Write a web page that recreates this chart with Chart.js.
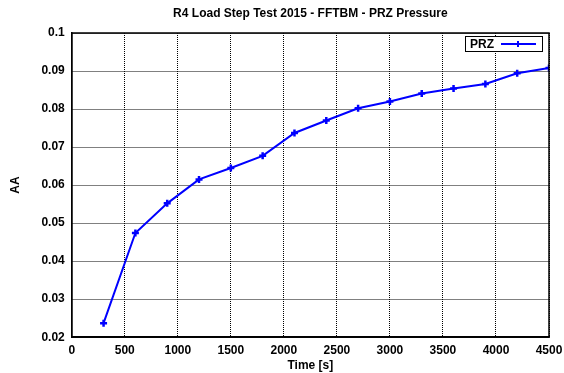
<!DOCTYPE html>
<html>
<head>
<meta charset="utf-8">
<script src="https://cdn.jsdelivr.net/npm/chart.js@4/dist/chart.umd.min.js"></script>
<style>
  html, body { margin: 0; padding: 0; background: #fff; }
  #wrap { width: 564px; height: 373px; }
</style>
</head>
<body>
<div id="wrap"><canvas id="chart"></canvas></div>
<script>
// Datos
const tiempos = [300, 600, 900, 1200, 1500, 1800, 2100, 2400, 2700, 3000, 3300, 3600, 3900, 4200, 4500];
const przValores = [0.0237, 0.0474, 0.0552, 0.0615, 0.0645, 0.0677, 0.0737, 0.0770, 0.0802, 0.0820, 0.0841, 0.0854, 0.0866, 0.0894, 0.0908];
const serieNombre = 'PRZ';
const tituloTexto = 'R4 Load Step Test 2015 - FFTBM - PRZ Pressure';

const fuente = 'Liberation Sans, Arial, sans-serif';
const azul = '#0000ff';

// Título centrado sobre el área de trazado (no sobre todo el lienzo)
const tituloArea = {
    id: 'tituloArea',
    afterDraw(chart) {
        const ctx = chart.ctx;
        const a = chart.chartArea;
        ctx.save();
        ctx.fillStyle = '#000';
        ctx.font = 'bold 12px ' + fuente;
        ctx.textAlign = 'center';
        ctx.textBaseline = 'middle';
        ctx.fillText(tituloTexto, (a.left + a.right) / 2, 14);
        ctx.restore();
    }
};

// Leyenda dentro del área del gráfico, con recuadro
const leyendaCaja = {
    id: 'leyendaCaja',
    afterDraw(chart) {
        const ctx = chart.ctx;
        const area = chart.chartArea;
        const w = 77, h = 15;
        const x = Math.round(area.right - 84), y = Math.round(area.top + 3);
        const cy = y + h / 2 + 0.5;
        ctx.save();
        ctx.fillStyle = '#fff';
        ctx.fillRect(x, y, w, h);
        ctx.strokeStyle = '#000';
        ctx.lineWidth = 1;
        ctx.strokeRect(x + 0.5, y + 0.5, w, h);
        ctx.fillStyle = '#000';
        ctx.font = 'bold 12px ' + fuente;
        ctx.textBaseline = 'middle';
        ctx.fillText(chart.data.datasets[0].label, x + 5, cy + 1);
        ctx.strokeStyle = azul;
        ctx.lineWidth = 2;
        ctx.beginPath();
        ctx.moveTo(x + 36, cy);
        ctx.lineTo(x + 71, cy);
        ctx.stroke();
        ctx.beginPath();
        ctx.moveTo(x + 53, cy - 3);
        ctx.lineTo(x + 53, cy + 3);
        ctx.stroke();
        ctx.restore();
    }
};

new Chart(document.getElementById('chart'), {
    type: 'line',
    data: {
        datasets: [{
            label: serieNombre,
            data: tiempos.map((t, i) => ({ x: t, y: przValores[i] })),
            borderColor: azul,
            backgroundColor: azul,
            borderWidth: 2,
            pointStyle: 'cross',
            pointRadius: 3.5,
            pointBorderWidth: 2.5,
            tension: 0
        }]
    },
    options: {
        responsive: true,
        maintainAspectRatio: false,
        animation: false,
        layout: { padding: { top: 33, right: 6, left: 8, bottom: 0 } },
        plugins: {
            legend: { display: false },
            tooltip: { enabled: false },
            title: { display: false }
        },
        scales: {
            x: {
                type: 'linear',
                min: 0,
                max: 4500,
                // margen derecho fijo para que el área acabe donde en el original
                afterFit: s => { s.paddingRight = 15; },
                ticks: {
                    stepSize: 500,
                    color: '#000',
                    font: { family: fuente, size: 12, weight: 'bold' },
                    maxRotation: 0,
                    padding: 6,
                    callback: v => String(v)
                },
                grid: {
                    color: '#000',
                    lineWidth: 1,
                    drawTicks: false
                },
                border: { color: '#000', width: 1.5, dash: [1, 1] },
                title: {
                    display: true,
                    text: 'Time [s]',
                    color: '#000',
                    font: { family: fuente, size: 12, weight: 'bold' },
                    padding: { top: -5, bottom: 0 }
                }
            },
            y: {
                min: 0.02,
                max: 0.1,
                ticks: {
                    stepSize: 0.01,
                    color: '#000',
                    font: { family: fuente, size: 12, weight: 'bold' },
                    padding: 7,
                    callback: v => String(Number(v.toFixed(2)))
                },
                grid: {
                    color: '#000',
                    lineWidth: 1,
                    drawTicks: false
                },
                border: { color: '#000', width: 1.5, dash: [1, 1] },
                title: {
                    display: true,
                    text: 'AA',
                    color: '#000',
                    font: { family: fuente, size: 12, weight: 'bold' },
                    padding: { top: 0, bottom: 12 }
                }
            }
        }
    },
    plugins: [tituloArea, leyendaCaja, {
        // Marco sólido alrededor del área
        id: 'marco',
        afterDraw(chart) {
            const a = chart.chartArea;
            const ctx = chart.ctx;
            ctx.save();
            ctx.strokeStyle = '#000';
            ctx.lineWidth = 1.5;
            ctx.setLineDash([]);
            ctx.strokeRect(a.left, a.top, a.right - a.left, a.bottom - a.top);
            ctx.restore();
        }
    }]
});
</script>
</body>
</html>
